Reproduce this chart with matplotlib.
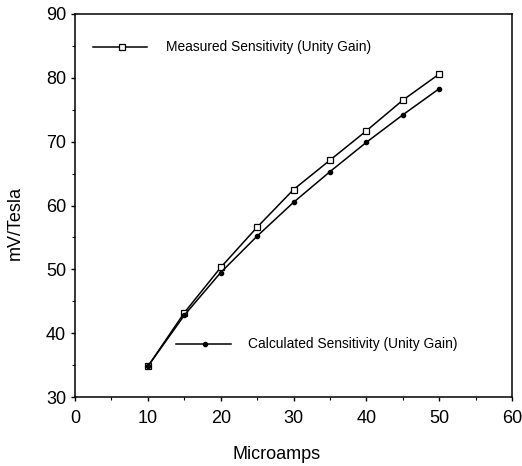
import numpy as np
import matplotlib.pyplot as plt

plt.rcParams['font.family'] = ['Liberation Sans', 'DejaVu Sans']

# 数据
microamps = [10, 15, 20, 25, 30, 35, 40, 45, 50]
measured = [34.8, 43.2, 50.3, 56.6, 62.5, 67.1, 71.7, 76.5, 80.6]
calculated = [34.8, 42.8, 49.5, 55.2, 60.5, 65.3, 69.9, 74.2, 78.3]

fig = plt.figure(figsize=(5.22, 4.66), dpi=100)
ax = fig.add_axes([0.1437, 0.148, 0.8373, 0.822])

ax.plot(microamps, measured, color='black', lw=1.1, marker='s', ms=4.5,
        mfc='white', mec='black', mew=0.9)
ax.plot(microamps, calculated, color='black', lw=1.1, marker='o', ms=3,
        mfc='black', mec='black')

# 图例（用文字和线段放在坐标区内）
ax.plot([2.5, 9.9], [84.8, 84.8], color='black', lw=1.1)
ax.plot([6.45], [84.8], marker='s', ms=4, mfc='white', mec='black', mew=0.9)
ax.text(12.5, 84.8, 'Measured Sensitivity (Unity Gain)', fontsize=9.9, va='center')

ax.plot([13.9, 21.4], [38.3, 38.3], color='black', lw=1.1)
ax.plot([17.85], [38.3], marker='o', ms=3, color='black')
ax.text(23.8, 38.3, 'Calculated Sensitivity (Unity Gain)', fontsize=9.9, va='center')

ax.set_xlim(0, 60)
ax.set_ylim(30, 90)
ax.set_xticks(np.arange(0, 61, 10))
ax.set_yticks(np.arange(30, 91, 10))
ax.set_xticks(np.arange(5, 60, 10), minor=True)
ax.set_yticks(np.arange(35, 90, 10), minor=True)
ax.tick_params(which='major', direction='out', length=3, labelsize=13, width=1)
ax.tick_params(which='minor', direction='out', length=2, width=0.8)
ax.tick_params(axis='x', which='major', pad=6)

for s in ax.spines.values():
    s.set_linewidth(1.1)

ax.set_xlabel('Microamps', fontsize=13)
ax.set_ylabel('mV/Tesla', fontsize=13)
ax.xaxis.set_label_coords(0.462, -0.151)
ax.yaxis.set_label_coords(-0.137, 0.454)
ax.xaxis.label.set_va('center')
ax.yaxis.label.set_va('center')

plt.savefig('out.png', dpi=100)
